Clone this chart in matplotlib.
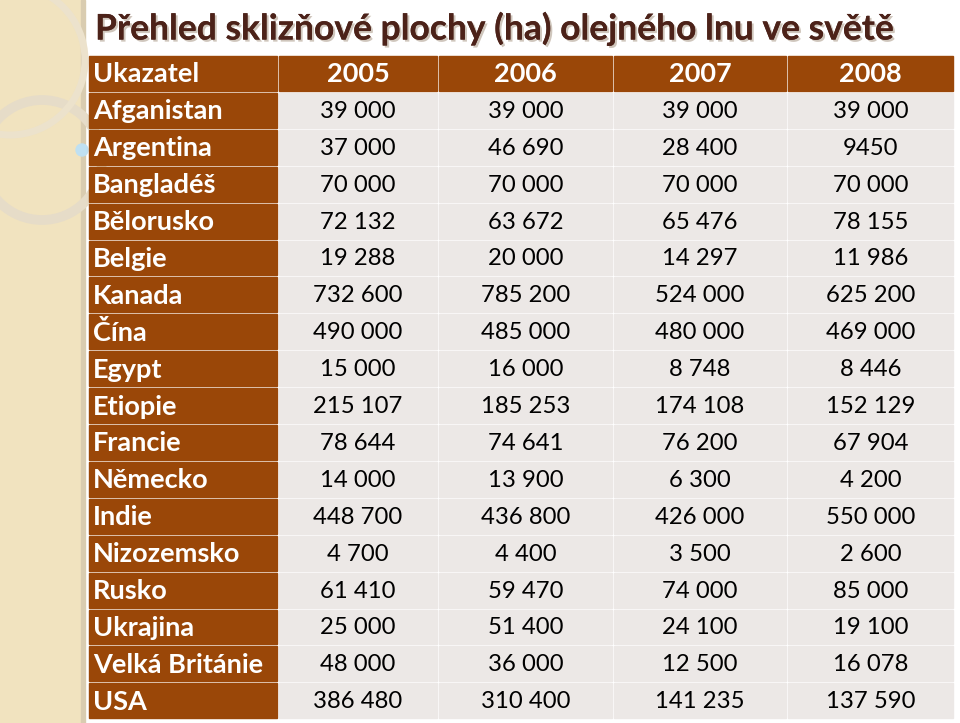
import matplotlib.pyplot as plt
from matplotlib.patches import Rectangle, Circle
import matplotlib.patheffects as pe

title = 'Přehled sklizňové plochy (ha) olejného lnu ve světě'
header = ['Ukazatel', '2005', '2006', '2007', '2008']
countries = ['Afganistan', 'Argentina', 'Bangladéš', 'Bělorusko', 'Belgie',
             'Kanada', 'Čína', 'Egypt', 'Etiopie', 'Francie', 'Německo',
             'Indie', 'Nizozemsko', 'Rusko', 'Ukrajina', 'Velká Británie', 'USA']
v2005 = ['39 000', '37 000', '70 000', '72 132', '19 288', '732 600', '490 000',
         '15 000', '215 107', '78 644', '14 000', '448 700', '4 700', '61 410',
         '25 000', '48 000', '386 480']
v2006 = ['39 000', '46 690', '70 000', '63 672', '20 000', '785 200', '485 000',
         '16 000', '185 253', '74 641', '13 900', '436 800', '4 400', '59 470',
         '51 400', '36 000', '310 400']
v2007 = ['39 000', '28 400', '70 000', '65 476', '14 297', '524 000', '480 000',
         '8 748', '174 108', '76 200', '6 300', '426 000', '3 500', '74 000',
         '24 100', '12 500', '141 235']
v2008 = ['39 000', '9450', '70 000', '78 155', '11 986', '625 200', '469 000',
         '8 446', '152 129', '67 904', '4 200', '550 000', '2 600', '85 000',
         '19 100', '16 078', '137 590']

plt.rcParams['font.family'] = ['Lato', 'DejaVu Sans']

brown = '#9a4708'
cell = '#ece8e6'

fig = plt.figure(figsize=(9.6, 7.23), dpi=100)
ax = fig.add_axes([0, 0, 1, 1])
ax.set_xlim(0, 960)
ax.set_ylim(723, 0)
ax.axis('off')

# left decorative strip
ax.add_patch(Rectangle((0, 0), 81, 723, color='#f1e3bf', zorder=0))
ax.add_patch(Rectangle((81, 0), 4, 723, color='#d9ccb0', zorder=0))
ax.add_patch(Circle((42, 160), 60, fill=False, lw=7, ec='#e6dcc8', zorder=1))
ax.add_patch(Circle((10, 60), 75, fill=False, lw=5, ec='#ece2cc', zorder=1))
ax.add_patch(Circle((82, 150), 6, color='#bfe0f2', zorder=1))

# title
ax.text(95, 29, title, fontsize=25.5, fontweight='bold', color='#4c2219',
        va='center', ha='left',
        path_effects=[pe.withSimplePatchShadow(offset=(1.5, -1.5), shadow_rgbFace='#b0a090', alpha=0.6),
                      pe.Normal()])

col_edges = [89, 279, 439, 614, 788, 955]
top = 56
row_h = 36.9
gap = 2

columns = [countries, v2005, v2006, v2007, v2008]
rows = [header] + [[columns[c][r] for c in range(5)] for r in range(len(countries))]

for r, row in enumerate(rows):
    y0 = top + r * row_h
    for c, txt in enumerate(row):
        x0 = col_edges[c]
        w = col_edges[c + 1] - x0 - gap
        h = row_h - gap
        is_head = r == 0 or c == 0
        ax.add_patch(Rectangle((x0, y0), w, h, color=brown if is_head else cell, zorder=2))
        if c == 0:
            ax.text(x0 + 4, y0 + h / 2 + 1, txt, fontsize=19.5, fontweight='bold',
                    color='white', va='center', ha='left', zorder=3)
        else:
            ax.text(x0 + w / 2, y0 + h / 2 + 1, txt,
                    fontsize=19.5 if r == 0 else 17.2,
                    fontweight='bold' if r == 0 else 'normal',
                    color='white' if r == 0 else 'black',
                    va='center', ha='center', zorder=3)

fig.savefig('out.png', dpi=100)
